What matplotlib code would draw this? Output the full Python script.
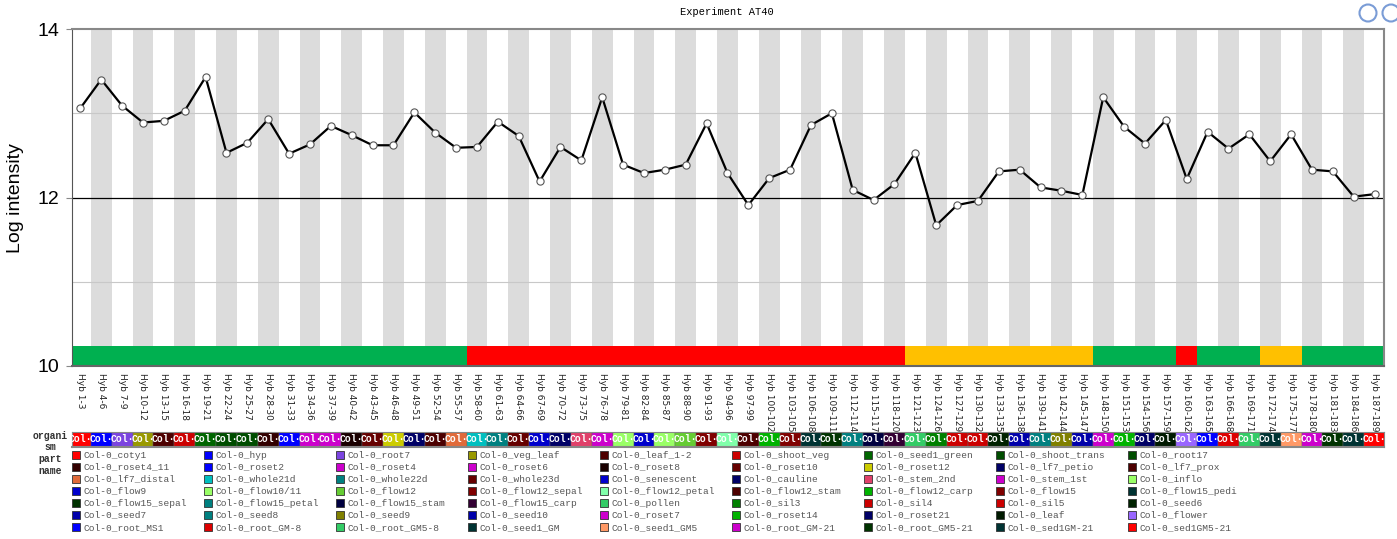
import matplotlib.pyplot as plt
from matplotlib.patches import Rectangle, Ellipse

# samples on the x axis
hyb_labels = [
    'Hyb 1-3', 'Hyb 4-6', 'Hyb 7-9', 'Hyb 10-12', 'Hyb 13-15', 'Hyb 16-18', 'Hyb 19-21',
    'Hyb 22-24', 'Hyb 25-27', 'Hyb 28-30', 'Hyb 31-33', 'Hyb 34-36', 'Hyb 37-39', 'Hyb 40-42',
    'Hyb 43-45', 'Hyb 46-48', 'Hyb 49-51', 'Hyb 52-54', 'Hyb 55-57', 'Hyb 58-60', 'Hyb 61-63',
    'Hyb 64-66', 'Hyb 67-69', 'Hyb 70-72', 'Hyb 73-75', 'Hyb 76-78', 'Hyb 79-81', 'Hyb 82-84',
    'Hyb 85-87', 'Hyb 88-90', 'Hyb 91-93', 'Hyb 94-96', 'Hyb 97-99', 'Hyb 100-102', 'Hyb 103-105',
    'Hyb 106-108', 'Hyb 109-111', 'Hyb 112-114', 'Hyb 115-117', 'Hyb 118-120', 'Hyb 121-123',
    'Hyb 124-126', 'Hyb 127-129', 'Hyb 130-132', 'Hyb 133-135', 'Hyb 136-138', 'Hyb 139-141',
    'Hyb 142-144', 'Hyb 145-147', 'Hyb 148-150', 'Hyb 151-153', 'Hyb 154-156', 'Hyb 157-159',
    'Hyb 160-162', 'Hyb 163-165', 'Hyb 166-168', 'Hyb 169-171', 'Hyb 172-174', 'Hyb 175-177',
    'Hyb 178-180', 'Hyb 181-183', 'Hyb 184-186', 'Hyb 187-189',
]

# log intensity
log_intensity = [
    13.06, 13.40, 13.09, 12.89, 12.91, 13.03, 13.43, 12.53, 12.65, 12.93,
    12.52, 12.63, 12.85, 12.74, 12.62, 12.62, 13.01, 12.77, 12.59, 12.60,
    12.90, 12.73, 12.19, 12.60, 12.44, 13.19, 12.39, 12.29, 12.33, 12.39,
    12.88, 12.29, 11.91, 12.23, 12.33, 12.86, 13.00, 12.09, 11.97, 12.16,
    12.53, 11.67, 11.91, 11.96, 12.31, 12.33, 12.12, 12.08, 12.03, 13.19,
    12.84, 12.64, 12.92, 12.22, 12.78, 12.58, 12.75, 12.43, 12.75, 12.33,
    12.31, 12.01, 12.04,
]

# coloured strip at the bottom (colour, number of samples)
stage_segments = [
    ('#00B050', 19), ('#FF0000', 21), ('#FFC000', 9), ('#00B050', 4),
    ('#FF0000', 1), ('#00B050', 3), ('#FFC000', 2), ('#00B050', 4),
]

# organism part legend, same order as the samples
part_names = [
    'Col-0_coty1', 'Col-0_hyp', 'Col-0_root7', 'Col-0_veg_leaf', 'Col-0_leaf_1-2',
    'Col-0_shoot_veg', 'Col-0_seed1_green', 'Col-0_shoot_trans', 'Col-0_root17',
    'Col-0_roset4_11', 'Col-0_roset2', 'Col-0_roset4', 'Col-0_roset6', 'Col-0_roset8',
    'Col-0_roset10', 'Col-0_roset12', 'Col-0_lf7_petio', 'Col-0_lf7_prox',
    'Col-0_lf7_distal', 'Col-0_whole21d', 'Col-0_whole22d', 'Col-0_whole23d',
    'Col-0_senescent', 'Col-0_cauline', 'Col-0_stem_2nd', 'Col-0_stem_1st', 'Col-0_inflo',
    'Col-0_flow9', 'Col-0_flow10/11', 'Col-0_flow12', 'Col-0_flow12_sepal',
    'Col-0_flow12_petal', 'Col-0_flow12_stam', 'Col-0_flow12_carp', 'Col-0_flow15',
    'Col-0_flow15_pedi', 'Col-0_flow15_sepal', 'Col-0_flow15_petal', 'Col-0_flow15_stam',
    'Col-0_flow15_carp', 'Col-0_pollen', 'Col-0_sil3', 'Col-0_sil4', 'Col-0_sil5',
    'Col-0_seed6', 'Col-0_seed7', 'Col-0_seed8', 'Col-0_seed9', 'Col-0_seed10',
    'Col-0_roset7', 'Col-0_roset14', 'Col-0_roset21', 'Col-0_leaf', 'Col-0_flower',
    'Col-0_root_MS1', 'Col-0_root_GM-8', 'Col-0_root_GM5-8', 'Col-0_seed1_GM',
    'Col-0_seed1_GM5', 'Col-0_root_GM-21', 'Col-0_root_GM5-21', 'Col-0_sed1GM-21',
    'Col-0_sed1GM5-21',
]
part_colors = [
    '#FF0000', '#0000FF', '#7B44E0', '#999900', '#4D0000',
    '#CC0000', '#006600', '#004D00', '#004D00',
    '#330000', '#0000FF', '#CC00CC', '#CC00CC', '#1A0000',
    '#660000', '#CCCC00', '#000066', '#4D0000',
    '#E06A3A', '#00BFBF', '#008080', '#660000',
    '#0000CC', '#000066', '#E0406A', '#CC00CC', '#99FF66',
    '#0000CC', '#99FF66', '#66CC33', '#800000',
    '#80FFAA', '#4D0000', '#00B300', '#800000',
    '#003333', '#003300', '#008080', '#000040',
    '#330033', '#33CC66', '#008000', '#CC0000', '#CC0000',
    '#002200', '#0000AA', '#008080', '#808000', '#0000AA',
    '#CC00CC', '#00B300', '#000066', '#001A00', '#9966FF',
    '#0000FF', '#DD0000', '#33CC66', '#003333',
    '#FF9966', '#CC00CC', '#003300', '#003333',
    '#FF0000',
]

W, H = 1397, 539


def fx(px):
    return px / W


def fy(py):
    return 1 - py / H


fig = plt.figure(figsize=(W / 100, H / 100), dpi=100)
ax = fig.add_axes([fx(72), fy(366), fx(1384) - fx(72), fy(29) - fy(366)])

x = list(range(len(hyb_labels)))

# alternating grey columns
for i in x:
    if i % 2 == 1:
        ax.axvspan(i - 0.5, i + 0.5, color='#DCDCDC', lw=0, zorder=0)

ax.axhline(13, color='#C8C8C8', lw=0.8, zorder=1)
ax.axhline(11, color='#C8C8C8', lw=0.8, zorder=1)
ax.axhline(12, color='black', lw=0.9, zorder=1)

# stage strip
stage_colors = []
for c, n in stage_segments:
    stage_colors += [c] * n
ax.bar(x, 0.24, bottom=10, width=1.0, color=stage_colors, lw=0, zorder=2)

ax.plot(x, log_intensity, color='black', lw=1.6, marker='o', markersize=5.2,
        markerfacecolor='white', markeredgecolor='#555555', markeredgewidth=0.8, zorder=3)

ax.set_xlim(-0.4, 62.45)
ax.set_ylim(10, 14)
ax.set_yticks([10, 12, 14])
ax.set_yticklabels(['10', '12', '14'], family='Liberation Sans', fontsize=14)
ax.tick_params(axis='y', length=4, color='#888888', pad=5)
ax.set_xticks(x)
ax.set_xticklabels(hyb_labels, rotation=-90, fontsize=6.5, family='DejaVu Sans', color='#222222')
ax.tick_params(axis='x', length=0, pad=5)
ax.spines['top'].set_color('#888888')
ax.spines['top'].set_linewidth(1.5)
ax.spines['right'].set_color('#888888')
ax.spines['right'].set_linewidth(1.5)
ax.spines['left'].set_color('#555555')
ax.spines['bottom'].set_color('#666666')
ax.spines['bottom'].set_linewidth(1.5)

fig.text(fx(16), fy(198), 'Log intensity', rotation=90, ha='center', va='center',
         family='Liberation Sans', fontsize=14)
fig.text(fx(727), fy(12), 'Experiment AT40', ha='center', va='center',
         family='Liberation Mono', fontsize=7.5)

# little icons top right
for cx in (1368, 1391):
    fig.patches.append(Ellipse((fx(cx), fy(13)), fx(17), 17 / H, facecolor='white',
                               edgecolor='#7A9CD6', lw=1.5, transform=fig.transFigure))

# organism part strip
ax2 = fig.add_axes([fx(72), fy(447), fx(1384) - fx(72), fy(432) - fy(447)])
ax2.bar(x, 1, width=1.0, color=part_colors, edgecolor='#666666', lw=0.3)
for i in x:
    ax2.text(i, 0.5, 'Col·', ha='center', va='center', color='white', fontsize=7,
             family='Liberation Mono', weight='bold', clip_on=True)
ax2.set_xlim(-0.4, 62.45)
ax2.set_ylim(0, 1)
ax2.set_xticks([])
ax2.set_yticks([])
for s in ax2.spines.values():
    s.set_color('#888888')
ax2.spines['bottom'].set_linewidth(1.5)

for j, t in enumerate(['organi', 'sm', 'part', 'name']):
    fig.text(fx(50), fy(436 + j * 11.5), t, ha='center', va='center', fontsize=7,
             family='Liberation Mono', weight='bold', color='#333333')

# legend grid
for k, (name, col) in enumerate(zip(part_names, part_colors)):
    r, c = divmod(k, 9)
    x0 = 72 + 131.95 * c
    y0 = 455 + 12.05 * r
    fig.patches.append(Rectangle((fx(x0), fy(y0 + 4)), fx(8), 8 / H, facecolor=col,
                                 edgecolor='#333333', lw=0.6, transform=fig.transFigure))
    fig.text(fx(x0 + 11.5), fy(y0), name, ha='left', va='center', fontsize=6.8,
             family='Liberation Mono', color='#555555')

plt.savefig('out.png', dpi=100)
